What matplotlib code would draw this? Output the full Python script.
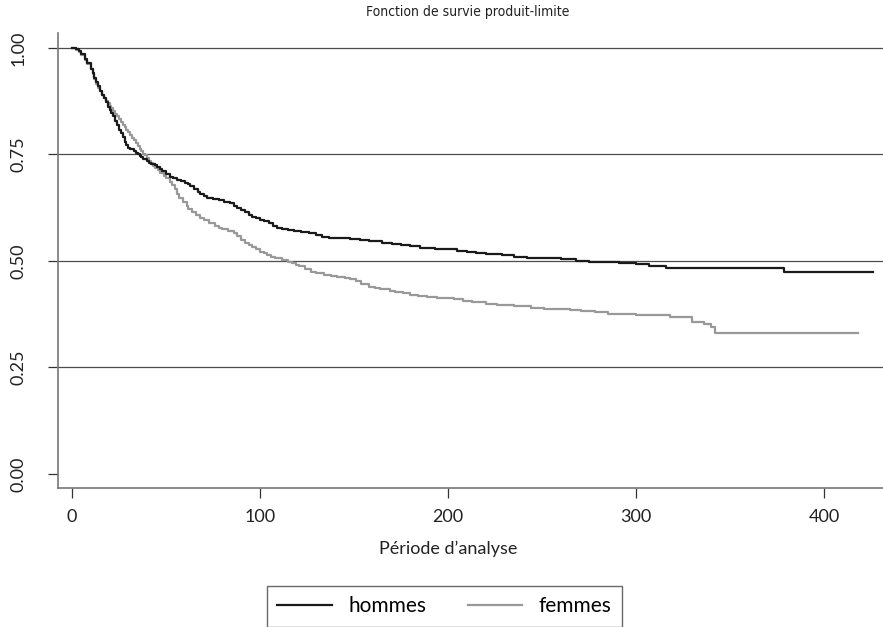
import matplotlib.pyplot as plt
import numpy as np

# Courbes de survie (lecture du graphique)
temps_hommes = [0, 2, 4, 5, 7, 8, 10, 11, 12, 13, 14, 15, 16, 17, 18, 19, 20, 21, 22, 23,
                24, 25, 26, 27, 28, 29, 30, 31, 33, 34, 35, 36, 37, 38, 40, 41, 42, 44,
                45, 47, 48, 50, 52, 54, 56, 58, 60, 62, 63, 65, 67, 68, 70, 72, 75, 78,
                81, 84, 86, 88, 90, 92, 94, 96, 98, 100, 102, 105, 107, 109, 112, 115,
                118, 122, 126, 130, 133, 137, 142, 148, 153, 158, 165, 170, 175, 180,
                185, 193, 201, 205, 210, 215, 220, 229, 235, 242, 250, 260, 268, 275,
                283, 291, 300, 307, 316, 379, 426]
surv_hommes = [1.000, 0.998, 0.992, 0.985, 0.975, 0.965, 0.950, 0.940, 0.930, 0.920,
               0.910, 0.900, 0.890, 0.882, 0.872, 0.862, 0.855, 0.848, 0.840, 0.828,
               0.818, 0.808, 0.800, 0.790, 0.780, 0.772, 0.766, 0.762, 0.758, 0.754,
               0.750, 0.747, 0.743, 0.740, 0.735, 0.731, 0.728, 0.724, 0.720, 0.715,
               0.710, 0.704, 0.698, 0.694, 0.691, 0.688, 0.684, 0.680, 0.676, 0.670,
               0.662, 0.656, 0.652, 0.648, 0.645, 0.642, 0.639, 0.636, 0.630, 0.625,
               0.620, 0.615, 0.608, 0.604, 0.600, 0.597, 0.593, 0.588, 0.582, 0.578,
               0.575, 0.572, 0.570, 0.568, 0.565, 0.561, 0.557, 0.554, 0.553, 0.552,
               0.549, 0.547, 0.543, 0.540, 0.537, 0.534, 0.530, 0.529, 0.528, 0.524,
               0.520, 0.518, 0.516, 0.513, 0.510, 0.507, 0.506, 0.505, 0.501, 0.498,
               0.497, 0.495, 0.493, 0.489, 0.484, 0.473, 0.473]

temps_femmes = [0, 2, 4, 5, 7, 8, 10, 11, 12, 13, 14, 15, 16, 17, 18, 19, 20, 21, 22, 23,
                24, 25, 26, 27, 28, 29, 30, 31, 32, 33, 34, 35, 36, 37, 38, 39, 40, 41,
                42, 43, 44, 46, 47, 49, 50, 52, 53, 55, 56, 57, 59, 61, 62, 64, 66, 68,
                70, 73, 76, 78, 80, 83, 86, 88, 90, 92, 94, 96, 98, 100, 102, 104, 106,
                108, 112, 115, 117, 119, 121, 124, 127, 130, 134, 138, 141, 145, 148,
                151, 154, 158, 161, 164, 169, 172, 176, 180, 184, 189, 194, 203, 208,
                213, 220, 226, 235, 244, 251, 258, 265, 271, 278, 285, 300, 318, 330,
                336, 340, 342, 418]
surv_femmes = [1.000, 0.996, 0.990, 0.983, 0.972, 0.962, 0.950, 0.938, 0.926, 0.916,
               0.906, 0.898, 0.890, 0.882, 0.876, 0.870, 0.864, 0.858, 0.852, 0.846,
               0.840, 0.833, 0.826, 0.820, 0.814, 0.808, 0.802, 0.795, 0.789, 0.783,
               0.776, 0.770, 0.763, 0.757, 0.752, 0.748, 0.742, 0.735, 0.729, 0.722,
               0.718, 0.713, 0.707, 0.700, 0.694, 0.686, 0.678, 0.668, 0.657, 0.647,
               0.638, 0.628, 0.622, 0.615, 0.608, 0.601, 0.596, 0.589, 0.583, 0.578,
               0.574, 0.570, 0.566, 0.558, 0.550, 0.543, 0.538, 0.533, 0.527, 0.522,
               0.518, 0.514, 0.510, 0.507, 0.502, 0.498, 0.495, 0.491, 0.487, 0.481,
               0.475, 0.471, 0.467, 0.465, 0.463, 0.460, 0.457, 0.452, 0.446, 0.439,
               0.436, 0.434, 0.430, 0.427, 0.424, 0.421, 0.418, 0.416, 0.414, 0.411,
               0.407, 0.404, 0.400, 0.397, 0.394, 0.390, 0.388, 0.386, 0.384, 0.382,
               0.379, 0.376, 0.374, 0.368, 0.357, 0.351, 0.345, 0.331, 0.331]

x_ticks = [0, 100, 200, 300, 400]
y_ticks = [0.0, 0.25, 0.5, 0.75, 1.0]
y_labels = ['0.00', '0.25', '0.50', '0.75', '1.00']

plt.rcParams['font.family'] = ['Lato', 'DejaVu Sans']

fig = plt.figure(figsize=(8.83, 6.27), dpi=100)
ax = fig.add_axes([58 / 883, 1 - 488 / 627, 1 - 58 / 883, (488 - 33) / 627])

# lignes horizontales de la grille
for y in y_ticks[1:]:
    ax.axhline(y, color='#4d4d4d', lw=0.9, zorder=1)

ax.step(temps_hommes, surv_hommes, where='post', color='#1a1a1a', lw=1.6,
        label='hommes', zorder=3)
ax.step(temps_femmes, surv_femmes, where='post', color='#999999', lw=1.6,
        label='femmes', zorder=2)

ax.set_xlim(-7.4, 431.4)
ax.set_ylim(-0.033, 1.035)
ax.set_xticks(x_ticks)
ax.set_yticks(y_ticks)
ax.set_yticklabels(y_labels, rotation=90, va='center')

for s in ['top', 'right']:
    ax.spines[s].set_visible(False)
for s in ['left', 'bottom']:
    ax.spines[s].set_color('#777777')
    ax.spines[s].set_linewidth(1.2)
ax.tick_params(axis='both', length=7, width=0.9, color='#333333', labelsize=13,
               labelcolor='#222222')
ax.tick_params(axis='x', pad=8)
ax.tick_params(axis='y', pad=16)

fig.text(468 / 883, 1 - 12 / 627, 'Fonction de survie produit-limite',
         ha='center', va='center', fontsize=10, family='DejaVu Sans',
         fontstretch='condensed', color='#222222')
fig.text(448 / 883, 1 - 549 / 627, 'Période d\u2019analyse', ha='center', va='center',
         fontsize=13, color='#222222')

leg = fig.legend(loc='upper center', bbox_to_anchor=(444.5 / 883, 1 - 586 / 627),
                 ncol=2, frameon=True, fancybox=False, fontsize=15,
                 handlelength=2.6, columnspacing=2.0, borderpad=0.5, borderaxespad=0)
leg.get_frame().set_edgecolor('#444444')
leg.get_frame().set_linewidth(1.0)

fig.savefig('out.png', dpi=100)
